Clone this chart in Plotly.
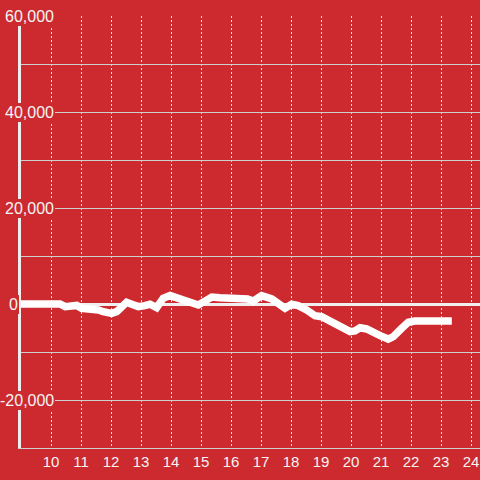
import plotly.graph_objects as go

# Data (hour of day, value)
hours = [9.0, 9.5, 10.0, 10.3, 10.47, 10.69, 10.86, 11.02, 11.3, 11.58, 11.74,
         12.02, 12.19, 12.36, 12.52, 12.69, 12.91, 13.13, 13.3, 13.52, 13.74,
         13.97, 14.19, 14.47, 14.74, 14.91, 15.13, 15.36, 15.63, 15.97, 16.3,
         16.55, 16.74, 17.02, 17.36, 17.58, 17.8, 18.02, 18.24, 18.52, 18.8,
         19.02, 19.3, 19.52, 19.74, 19.97, 20.13, 20.3, 20.52, 20.74, 20.97,
         21.24, 21.41, 21.69, 21.91, 22.13, 22.5, 23.0, 23.36]
values = [0, 0, 0, 0, -550, -350, -300, -900, -1000, -1250, -1600,
          -1950, -1600, -550, 350, -50, -550, -350, -50, -750, 1200,
          1750, 1300, 850, 150, -200, 600, 1450, 1300, 1200, 1200,
          1050, 600, 1750, 1050, -50, -900, -50, -350, -1250, -2450,
          -2650, -3550, -4250, -5200, -5750, -5600, -4950, -5200, -6100, -6600,
          -7300, -6800, -5050, -3800, -3550, -3550, -3550, -3550]

x_ticks = list(range(10, 25))
y_label_vals = [60000, 40000, 20000, 0, -20000]
y_label_text = ["60,000", "40,000", "20,000", "0", "-20,000"]

BG = "#CC2A2F"
TXT = "#f5f5f5"
FONT = "Liberation Sans, Arial, sans-serif"

W, H = 480, 480
ML, MR, MT, MB = 21, 0, 16, 32
PW = W - ML - MR

fig = go.Figure()
fig.add_trace(go.Scatter(
    x=hours, y=values, mode="lines",
    line=dict(color="#ffffff", width=7.5),
    hoverinfo="skip", showlegend=False,
))

annotations = []
for v, t in zip(y_label_vals, y_label_text):
    right_px = 18.5 if v == 0 else 54.5
    annotations.append(dict(
        x=(right_px - ML) / PW, xref="paper", xanchor="right",
        y=v, yref="y", yanchor="middle",
        text=t, showarrow=False,
        font=dict(family=FONT, size=16, color=TXT),
        bgcolor=BG, borderpad=1, borderwidth=0,
    ))

fig.update_layout(
    width=W, height=H,
    margin=dict(l=ML, r=MR, t=MT, b=MB, pad=0),
    paper_bgcolor=BG, plot_bgcolor=BG,
    font=dict(family=FONT, size=15, color=TXT),
    showlegend=False,
    annotations=annotations,
    xaxis=dict(
        range=[9, 9 + PW / 30.0],
        tickvals=x_ticks, ticktext=[str(v) for v in x_ticks],
        showgrid=True, gridcolor="#e6e6e6", gridwidth=1, griddash="2px,2px",
        zeroline=False,
        showline=True, linecolor="#cfcfcf", linewidth=1,
        ticks="", tickfont=dict(family=FONT, size=15, color=TXT),
        fixedrange=True,
    ),
    yaxis=dict(
        range=[-30000, 60000],
        dtick=10000, tick0=0,
        showticklabels=False,
        showgrid=True, gridcolor="#cfcfcf", gridwidth=1,
        zeroline=True, zerolinecolor="#f0eeee", zerolinewidth=3,
        showline=True, linecolor="#f0eeee", linewidth=3,
        ticks="",
        fixedrange=True,
    ),
)

fig.write_html(
    "out.html",
    config={"displayModeBar": False},
    post_script="document.body.style.margin='0';document.body.style.padding='0';",
)
